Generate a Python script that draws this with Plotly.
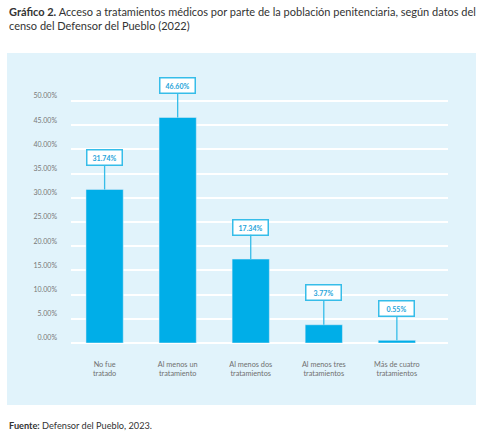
import plotly.graph_objects as go

categorias = ["No fue<br>tratado", "Al menos un<br>tratamiento", "Al menos dos<br>tratamientos",
              "Al menos tres<br>tratamientos", "Más de cuatro<br>tratamientos"]
porcentajes = [31.74, 46.60, 17.34, 3.77, 0.55]
etiquetas = ["31.74%", "46.60%", "17.34%", "3.77%", "0.55%"]
ticks_y = [0, 5, 10, 15, 20, 25, 30, 35, 40, 45, 50]

AZUL = "#00aee8"
PANEL = "#e1f3fb"
BORDE = "#36bde9"

fig = go.Figure(go.Bar(x=categorias, y=porcentajes, marker_color=AZUL, width=0.51,
                       hoverinfo="x+y"))

for cat, val, txt in zip(categorias, porcentajes, etiquetas):
    fig.add_annotation(x=cat, y=val, text="<b>%s</b>" % txt, showarrow=True,
                       ax=0, ay=-32, arrowhead=0, arrowwidth=1.3, arrowcolor=BORDE,
                       bgcolor="white", bordercolor=BORDE, borderwidth=1.5, borderpad=2,
                       width=30, height=10, font=dict(size=7, color="#1ea4da"))

titulo = ("<b>Gráfico 2.</b> Acceso a tratamientos médicos por parte de la población penitenciaria, según datos del"
          "<br>censo del Defensor del Pueblo (2022)")
fig.add_annotation(xref="paper", yref="paper", x=-0.17, y=1.203, xanchor="left", yanchor="top",
                   align="left", text=titulo, showarrow=False, font=dict(size=11, color="#333333"))
fig.add_annotation(xref="paper", yref="paper", x=-0.17, y=-0.29, xanchor="left", yanchor="middle",
                   text="<b>Fuente:</b> Defensor del Pueblo, 2023.", showarrow=False,
                   font=dict(size=9.2, color="#333333"))

# panel celeste de fondo
fig.add_shape(type="rect", xref="paper", yref="paper", x0=-0.1698, x1=1.0743, y0=-0.219, y1=1.0247,
              fillcolor=PANEL, line_width=0, layer="below")

fig.update_layout(
    width=484, height=435,
    margin=dict(l=71, r=36, t=60, b=92),
    paper_bgcolor="white", plot_bgcolor="rgba(0,0,0,0)",
    font=dict(family="Lato", color="#707070"),
    showlegend=False,
)
fig.update_xaxes(range=[-0.46, 4.70], showgrid=False, showline=False, ticks="outside", ticklen=14,
                 tickcolor="rgba(0,0,0,0)", tickfont=dict(size=7.3, color="#707070"))
fig.update_yaxes(range=[0, 58.47], tickvals=ticks_y, ticktext=["%.2f%%" % v for v in ticks_y],
                 gridcolor="white", gridwidth=1.5, zeroline=True, zerolinecolor="white", zerolinewidth=1.5,
                 showline=False, ticks="", ticklabelshift=-5, ticklabelstandoff=13,
                 tickfont=dict(size=7, color="#777777"))

fig.write_html("out.html", config={"displayModeBar": False},
               post_script="document.body.style.margin='0';")
